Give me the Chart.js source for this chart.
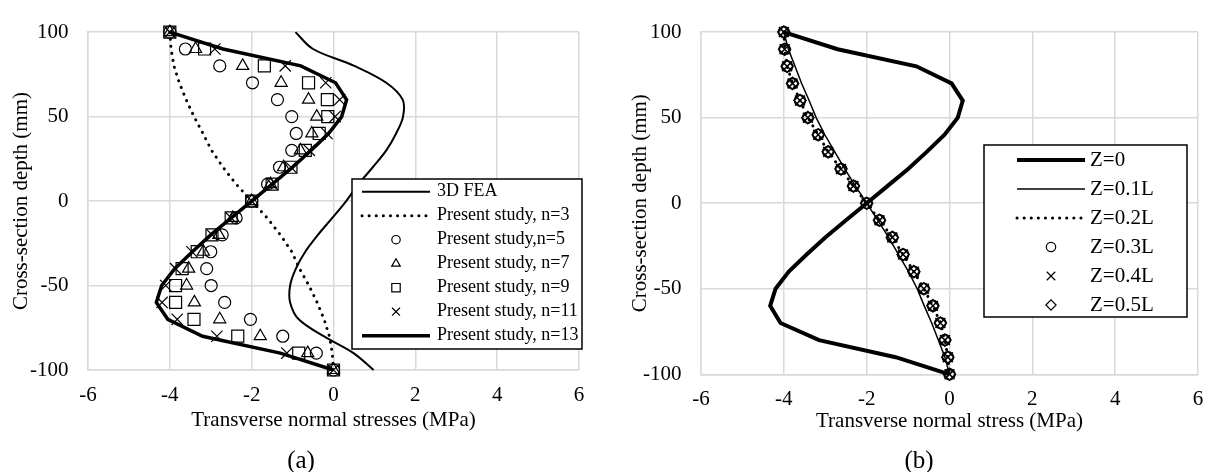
<!DOCTYPE html>
<html>
<head>
<meta charset="utf-8">
<script src="https://cdn.jsdelivr.net/npm/chart.js@4"></script>
<style>
  html, body { margin: 0; padding: 0; background: #fff; }
  body { width: 1221px; height: 472px; position: relative; overflow: hidden; font-family: "Liberation Serif", "Times New Roman", serif; }
  #wrapA { position: absolute; left: 0; top: 0; width: 600px; height: 472px; }
  #wrapB { position: absolute; left: 610px; top: 0; width: 611px; height: 472px; }
  .cap { position: absolute; top: 445px; width: 60px; font-size: 25px; line-height: 29px; text-align: center; color: #000; }
</style>
</head>
<body>
<div id="wrapA"><canvas id="chartA" width="600" height="472"></canvas></div>
<div id="wrapB"><canvas id="chartB" width="611" height="472"></canvas></div>
<div class="cap" style="left:271px">(a)</div>
<div class="cap" style="left:889px">(b)</div>
<script>
// depth through the section (mm), shared by every series
const depth = [100, 90, 80, 70, 60, 50, 40, 30, 20, 10, 0, -10, -20, -30, -40, -50, -60, -70, -80, -90, -100]

// (a) transverse normal stresses (MPa)
const fea3d = [-0.93, -0.5, 0.51, 1.29, 1.69, 1.7, 1.53, 1.29, 0.96, 0.61, 0.31, -0.03, -0.38, -0.69, -0.92, -1.06, -1.06, -0.85, -0.24, 0.49, 0.98]
const n3 = [-4.0, -3.97, -3.9, -3.77, -3.6, -3.41, -3.19, -2.98, -2.7, -2.38, -2.0, -1.62, -1.3, -1.02, -0.83, -0.6, -0.4, -0.23, -0.1, -0.03, 0]
const n5 = [-4.0, -3.62, -2.78, -1.98, -1.37, -1.02, -0.91, -1.02, -1.32, -1.61, -2.0, -2.38, -2.72, -3.0, -3.1, -2.99, -2.66, -2.03, -1.24, -0.42, 0]
const n7 = [-4.0, -3.37, -2.22, -1.28, -0.61, -0.41, -0.53, -0.81, -1.22, -1.54, -2.0, -2.46, -2.8, -3.18, -3.54, -3.59, -3.4, -2.78, -1.79, -0.63, 0]
const n9 = [-4.0, -3.15, -1.69, -0.61, -0.15, -0.14, -0.35, -0.69, -1.04, -1.5, -2.0, -2.5, -2.97, -3.33, -3.7, -3.86, -3.86, -3.41, -2.34, -0.85, 0]
const n11 = [-4.0, -2.9, -1.18, -0.19, 0.15, 0.04, -0.16, -0.59, -1.04, -1.5, -2.0, -2.5, -2.97, -3.46, -3.86, -4.1, -4.19, -3.82, -2.85, -1.14, 0]
const n13 = [-4.0, -2.7, -0.8, 0.05, 0.32, 0.2, -0.12, -0.55, -1.0, -1.5, -2.0, -2.5, -3.0, -3.45, -3.88, -4.2, -4.33, -4.05, -3.2, -1.3, 0]

// (b) transverse normal stress (MPa) at different sections along the beam
const z0 = [-4.0, -2.7, -0.8, 0.05, 0.32, 0.2, -0.12, -0.55, -1.0, -1.5, -2.0, -2.5, -3.0, -3.45, -3.88, -4.2, -4.33, -4.08, -3.15, -1.3, 0]
const z01 = [-4.0, -3.89, -3.73, -3.57, -3.39, -3.22, -3.01, -2.77, -2.53, -2.27, -2.0, -1.73, -1.47, -1.23, -0.99, -0.78, -0.61, -0.43, -0.27, -0.11, 0]
const z02 = [-4.0, -3.98, -3.92, -3.79, -3.61, -3.42, -3.17, -2.93, -2.62, -2.32, -2.0, -1.69, -1.38, -1.12, -0.86, -0.62, -0.4, -0.22, -0.11, -0.04, 0]
const z03 = [-4.0, -3.98, -3.92, -3.79, -3.61, -3.42, -3.17, -2.93, -2.62, -2.32, -2.0, -1.69, -1.38, -1.12, -0.86, -0.62, -0.4, -0.22, -0.11, -0.04, 0]
const z04 = [-4.0, -3.98, -3.92, -3.79, -3.61, -3.42, -3.17, -2.93, -2.62, -2.32, -2.0, -1.69, -1.38, -1.12, -0.86, -0.62, -0.4, -0.22, -0.11, -0.04, 0]
const z05 = [-4.0, -3.98, -3.92, -3.79, -3.61, -3.42, -3.17, -2.93, -2.62, -2.32, -2.0, -1.69, -1.38, -1.12, -0.86, -0.62, -0.4, -0.22, -0.11, -0.04, 0]

const xTicks = [-6, -4, -2, 0, 2, 4, 6]
const yTicks = [-100, -50, 0, 50, 100]

const FONT = '"Liberation Serif", "Times New Roman", serif'
const GRID = '#d9d9d9'

const pts = (vals) => vals.map((v, i) => ({ x: v, y: depth[i] }))

const lineSet = (label, vals, width, extra) => Object.assign({
    label: label,
    data: pts(vals),
    showLine: true,
    borderColor: '#000',
    borderWidth: width,
    pointRadius: 0,
    clip: false,
}, extra || {})

const markSet = (label, vals, style, r, bw) => ({
    label: label,
    data: pts(vals),
    showLine: false,
    pointStyle: style,
    pointRadius: r,
    pointBorderColor: '#000',
    pointBackgroundColor: 'rgba(0,0,0,0)',
    pointBorderWidth: bw,
    clip: false,
})

const dotted = { borderDash: [0.1, 7], borderCapStyle: 'round' }

// legend drawn as a framed box inside the plot, rows taken from the datasets
const boxLegend = {
    id: 'boxLegend',
    afterDraw(chart, args, o) {
        const ctx = chart.ctx
        ctx.save()
        ctx.fillStyle = '#fff'
        ctx.fillRect(o.left, o.top, o.width, o.height)
        ctx.strokeStyle = '#000'
        ctx.lineWidth = 1.5
        ctx.strokeRect(o.left, o.top, o.width, o.height)
        ctx.font = o.fontSize + 'px ' + FONT
        ctx.textBaseline = 'middle'
        ctx.textAlign = 'left'
        chart.data.datasets.forEach((ds, i) => {
            const y = o.firstRow + i * o.rowH
            if (ds.showLine) {
                ctx.beginPath()
                ctx.setLineDash(ds.borderDash || [])
                ctx.lineCap = ds.borderCapStyle || 'butt'
                ctx.lineWidth = ds.borderWidth
                ctx.strokeStyle = '#000'
                ctx.moveTo(o.lineX0, y)
                ctx.lineTo(o.lineX1, y)
                ctx.stroke()
                ctx.setLineDash([])
                ctx.lineCap = 'butt'
            } else {
                ctx.strokeStyle = '#000'
                ctx.fillStyle = 'rgba(0,0,0,0)'
                ctx.lineWidth = 1.2
                Chart.helpers.drawPoint(ctx, {
                    pointStyle: ds.pointStyle,
                    radius: ds.pointRadius * o.markerScale,
                    borderWidth: 1.2,
                }, (o.lineX0 + o.lineX1) / 2, y)
            }
            ctx.fillStyle = '#000'
            ctx.fillText(ds.label, o.textX, y)
        })
        ctx.restore()
    },
}

const makeScales = (xTitle, yWidth, xHeight) => ({
    x: {
        type: 'linear', min: -6, max: 6,
        afterBuildTicks: (s) => { s.ticks = xTicks.map((v) => ({ value: v })) },
        afterFit: (s) => { s.height = xHeight },
        ticks: { color: '#000', font: { family: FONT, size: 21 }, padding: 13 },
        grid: { color: GRID, lineWidth: 1.5, drawTicks: false },
        border: { color: GRID, width: 1.5 },
        title: { display: true, text: xTitle, color: '#000', font: { family: FONT, size: 21 }, padding: 0 },
    },
    y: {
        type: 'linear', min: -100, max: 100,
        afterBuildTicks: (s) => { s.ticks = yTicks.map((v) => ({ value: v })) },
        afterFit: (s) => { s.width = yWidth },
        ticks: { color: '#000', font: { family: FONT, size: 21 }, padding: 19.5 },
        grid: { color: GRID, lineWidth: 1.5, drawTicks: false },
        border: { color: GRID, width: 1.5 },
        title: { display: true, text: 'Cross-section depth (mm)', color: '#000', font: { family: FONT, size: 21 }, padding: 0 },
    },
})

new Chart(document.getElementById('chartA'), {
    type: 'scatter',
    data: {
        datasets: [
            lineSet('3D FEA', fea3d, 2, { tension: 0.35 }),
            lineSet('Present study, n=3', n3, 3, dotted),
            markSet('Present study,n=5', n5, 'circle', 6, 1.2),
            markSet('Present study, n=7', n7, 'triangle', 7, 1.2),
            markSet('Present study, n=9', n9, 'rect', 8.5, 1.2),
            markSet('Present study, n=11', n11, 'crossRot', 8, 1.2),
            lineSet('Present study, n=13', n13, 3.5),
        ],
    },
    options: {
        responsive: false,
        animation: false,
        events: [],
        layout: { padding: { left: 8.4, right: 21, top: 17, bottom: 39.4 } },
        scales: makeScales('Transverse normal stresses (MPa)', 79.6, 62.6),
        plugins: {
            legend: { display: false },
            tooltip: { enabled: false },
            boxLegend: {
                left: 352, top: 179, width: 230, height: 170,
                firstRow: 191.7, rowH: 24,
                lineX0: 362, lineX1: 430, textX: 437,
                fontSize: 18, markerScale: 0.7,
            },
        },
    },
    plugins: [boxLegend],
})

new Chart(document.getElementById('chartB'), {
    type: 'scatter',
    data: {
        datasets: [
            lineSet('Z=0', z0, 4),
            lineSet('Z=0.1L', z01, 1.5),
            lineSet('Z=0.2L', z02, 3, dotted),
            markSet('Z=0.3L', z03, 'circle', 5.5, 1.5),
            markSet('Z=0.4L', z04, 'crossRot', 7, 1.5),
            markSet('Z=0.5L', z05, 'rectRot', 6, 1.5),
        ],
    },
    options: {
        responsive: false,
        animation: false,
        events: [],
        layout: { padding: { left: 17.4, right: 23, top: 23.3, bottom: 38.4 } },
        scales: makeScales('Transverse normal stress (MPa)', 73.6, 59.3),
        plugins: {
            legend: { display: false },
            tooltip: { enabled: false },
            boxLegend: {
                left: 374, top: 145, width: 203, height: 172,
                firstRow: 160, rowH: 29,
                lineX0: 407, lineX1: 475, textX: 480,
                fontSize: 21, markerScale: 0.85,
            },
        },
    },
    plugins: [boxLegend],
})
</script>
</body>
</html>
